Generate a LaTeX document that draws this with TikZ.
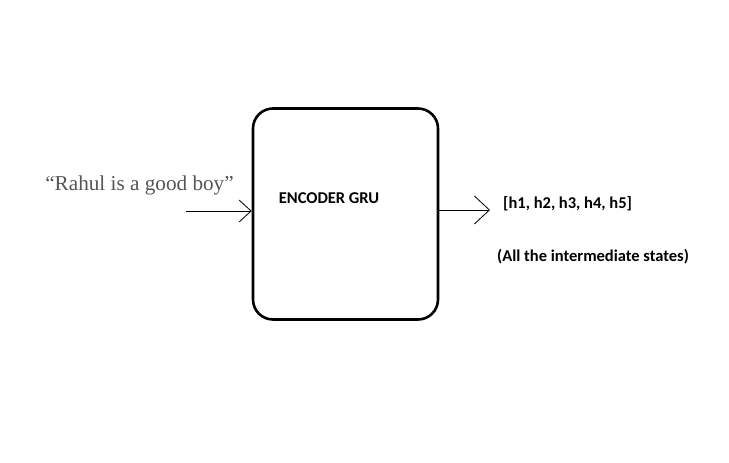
\documentclass[tikz,border=0pt]{standalone}
\usepackage{fontspec}
\usetikzlibrary{arrows.meta}
\newfontfamily\calfont{Carlito}
\newfontfamily\quotefont{Liberation Serif}
\definecolor{sentencegray}{RGB}{85,85,85}

\begin{document}
\begin{tikzpicture}[x=1pt,y=-1pt,
    gru/.style={draw,line width=2.6pt,rounded corners=20pt,
      minimum width=185pt,minimum height=211pt,inner sep=0pt},
    tag/.style={font=\calfont\bfseries\fontsize{16.5}{18}\selectfont,inner sep=0pt},
    flow/.style={line width=0.8pt,-{Straight Barb[length=12pt,width=22pt,line width=0.8pt]}}]
    \useasboundingbox (0,0) rectangle (729,463);
    \node[gru] (encoder) at (345.5,214) {};
    \node[tag] (encname) at (329,198) {ENCODER GRU};
    \node[font=\quotefont\fontsize{21.2}{23}\selectfont,text=sentencegray,inner sep=0pt]
      (sentence) at (139.5,185) {“Rahul is a good boy”};
    \coordinate (input) at (186,211);
    \draw[flow] (input)--(input -| encoder.west);
    \node[tag,anchor=west] (states) at (503,204) {[h1, h2, h3, h4, h5]};
    \node[tag,anchor=west] (allstates) at (497,257) {(All the intermediate states)};
    \coordinate (output) at (490,210);
    \draw[line width=0.8pt,-{Straight Barb[length=15pt,width=28pt,line width=0.8pt]}]
      (output -| encoder.east)--(output);
  \end{tikzpicture}
\end{document}
